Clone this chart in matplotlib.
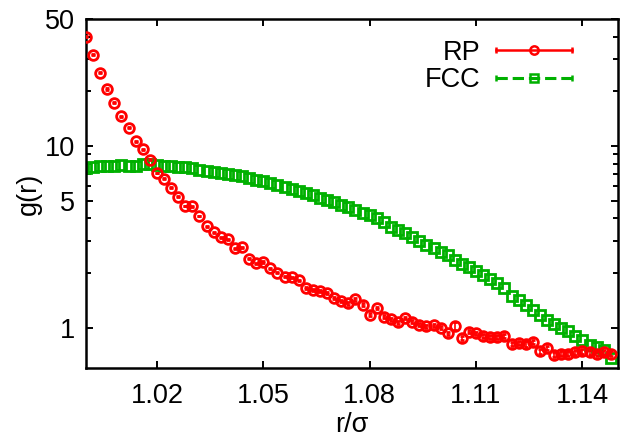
import matplotlib
matplotlib.use("Agg")
import matplotlib.pyplot as plt
from matplotlib.legend_handler import HandlerBase
from matplotlib.lines import Line2D
from matplotlib.ticker import FixedLocator, NullFormatter, FixedFormatter

plt.rcParams['font.family'] = ['Liberation Sans', 'DejaVu Sans']

r = [1.000 + 0.002 * i for i in range(75)]

g_rp = [40.0, 31.8, 25.3, 20.6, 17.3, 14.6, 12.6, 10.6, 9.6, 8.4,
        7.1, 6.6, 5.9, 5.25, 4.67, 4.65, 4.12, 3.61, 3.35, 3.14,
        3.06, 2.73, 2.77, 2.40, 2.26, 2.30, 2.12, 2.01, 1.91, 1.89,
        1.82, 1.66, 1.62, 1.59, 1.55, 1.46, 1.40, 1.36, 1.43, 1.34,
        1.18, 1.28, 1.15, 1.11, 1.07, 1.13, 1.08, 1.04, 1.02, 1.03,
        1.00, 0.93, 1.02, 0.88, 0.95, 0.93, 0.90, 0.89, 0.89, 0.90,
        0.81, 0.82, 0.81, 0.83, 0.74, 0.77, 0.71, 0.72, 0.72, 0.73,
        0.74, 0.73, 0.72, 0.73, 0.72]

rp_err = [0.3, 0.2, 0.2, 0.15, 0.1, 0.1, 0.08, 0.06, 0.05, 0.05,
          0.04, 0.03, 0.03, 0.03, 0.02, 0.02, 0.02, 0.02, 0.02, 0.02,
          0.02, 0.02, 0.02, 0.02, 0.02, 0.02, 0.02, 0.02, 0.02, 0.02,
          0.02, 0.02, 0.02, 0.02, 0.02, 0.02, 0.02, 0.02, 0.02, 0.02,
          0.02, 0.02, 0.02, 0.02, 0.02, 0.02, 0.02, 0.02, 0.02, 0.02,
          0.02, 0.02, 0.05, 0.02, 0.02, 0.02, 0.02, 0.02, 0.02, 0.02,
          0.02, 0.02, 0.03, 0.02, 0.02, 0.02, 0.02, 0.02, 0.02, 0.02,
          0.02, 0.02, 0.02, 0.02, 0.02]

g_fcc = [7.6, 7.7, 7.75, 7.8, 7.75, 7.85, 7.8, 7.8, 8.0, 7.95,
         7.9, 7.8, 7.75, 7.7, 7.65, 7.6, 7.4, 7.3, 7.2, 7.1,
         7.0, 6.9, 6.8, 6.65, 6.5, 6.4, 6.25, 6.1, 5.95, 5.8,
         5.65, 5.5, 5.35, 5.2, 5.05, 4.9, 4.75, 4.6, 4.45, 4.3,
         4.15, 4.0, 3.8, 3.6, 3.45, 3.3, 3.15, 3.0, 2.85, 2.75,
         2.6, 2.5, 2.35, 2.25, 2.15, 2.05, 1.95, 1.85, 1.75, 1.65,
         1.5, 1.42, 1.33, 1.25, 1.18, 1.1, 1.05, 1.0, 0.96, 0.9,
         0.85, 0.8, 0.78, 0.75, 0.68]

xticks = [1.02, 1.05, 1.08, 1.11, 1.14]
yticks = [1, 5, 10, 50]
yminor = [2, 3, 4, 6, 7, 8, 9, 20, 30, 40]

red = '#ff0000'
green = '#00b000'


# gnuplot style key: line with end caps and point in the middle
class ErrKey(HandlerBase):
    def create_artists(self, legend, orig, xd, yd, w, h, fs, trans):
        y = yd + h / 2
        line = Line2D([xd, xd + w], [y, y], color=orig.get_color(),
                      ls=orig.get_linestyle(), lw=orig.get_linewidth(),
                      dash_capstyle='butt')
        caps = Line2D([xd, xd + w], [y, y], ls='none', marker='|',
                      ms=5, mew=1.8, color=orig.get_color())
        pt = Line2D([xd + w / 2], [y], ls='none', marker=orig.get_marker(),
                    ms=orig.get_markersize(), mew=orig.get_markeredgewidth(),
                    mfc='none', mec=orig.get_color())
        for a in (line, caps, pt):
            a.set_transform(trans)
        return [line, caps, pt]


fig = plt.figure(figsize=(6.21, 4.38), dpi=100)
ax = fig.add_axes([0.1385, 0.160, 0.8565, 0.7966])

ax.errorbar(r, g_rp, yerr=rp_err, fmt='o', color=red, mfc='none',
            ms=7, mew=2.0, elinewidth=1.2, capsize=1.5, zorder=3)
ax.plot(r, g_fcc, 's', color=green, mfc='none', ms=7, mew=2.0, zorder=2)

ax.set_yscale('log')
ax.set_xlim(1.0, 1.15)
ax.set_ylim(0.6, 50)

ax.xaxis.set_major_locator(FixedLocator(xticks))
ax.set_xticklabels(['%.2f' % t for t in xticks])
ax.yaxis.set_major_locator(FixedLocator(yticks))
ax.yaxis.set_major_formatter(FixedFormatter([str(t) for t in yticks]))
ax.yaxis.set_minor_locator(FixedLocator(yminor))
ax.yaxis.set_minor_formatter(NullFormatter())
ax.xaxis.set_minor_locator(FixedLocator([]))

ax.tick_params(which='both', direction='in', top=True, right=True,
               labelsize=19.5, width=1.4, pad=8)
ax.tick_params(axis='x', which='major', pad=11)
ax.tick_params(which='major', length=5)
ax.tick_params(which='minor', length=3.5)
for s in ax.spines.values():
    s.set_linewidth(1.8)

ax.set_xlabel('r/σ', fontsize=19.5, labelpad=2)
ax.set_ylabel('g(r)', fontsize=19.5, labelpad=2)

key_rp = Line2D([], [], color=red, ls='-', lw=1.8, marker='o', ms=6, mew=1.8)
key_fcc = Line2D([], [], color=green, ls=(0, (0.9, 0.9)), lw=2.2, marker='s', ms=6, mew=1.8)
ax.legend([key_rp, key_fcc], ['RP', 'FCC'], loc='upper right',
          bbox_to_anchor=(0.96, 1.01), frameon=False, fontsize=19.5,
          markerfirst=False, handlelength=2.8, handletextpad=0.6,
          labelspacing=0.05, handler_map={Line2D: ErrKey()})

fig.savefig('out.png', dpi=100)
